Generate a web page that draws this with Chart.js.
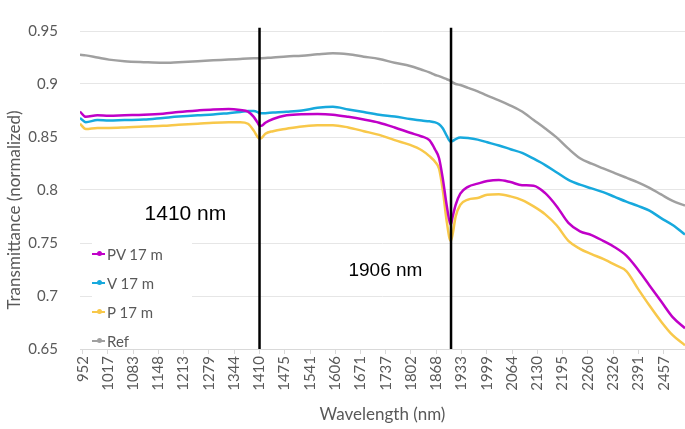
<!DOCTYPE html>
<html>
<head>
<meta charset="utf-8">
<script src="https://cdn.jsdelivr.net/npm/chart.js@4.4.0/dist/chart.umd.min.js"></script>
<style>
  html, body { margin: 0; padding: 0; background: #fff; }
  #wrap { position: relative; width: 685px; height: 429px; }
  #legend { position: absolute; left: 92px; top: 239px; width: 100px; height: 110px; background: #fff;
            font: 15px Lato, sans-serif; color: #595959; }
  .item { height: 29px; display: flex; align-items: center; }
  .mk { position: relative; width: 13px; height: 2px; margin-right: 2px; }
  .mk i { position: absolute; left: 4.5px; top: -1.5px; width: 5px; height: 5px; border-radius: 50%; }
</style>
</head>
<body>
<div id="wrap">
  <canvas id="myChart" width="685" height="429"></canvas>
  <div id="legend"></div>
</div>
<script>
const wavelengths = [945, 960, 990, 1020, 1060, 1110, 1160, 1200, 1250, 1290, 1330, 1360, 1380, 1395, 1405, 1410,
  1415, 1425, 1445, 1480, 1520, 1560, 1600, 1640, 1680, 1720, 1760, 1800, 1830, 1850, 1865, 1875, 1885, 1895,
  1905, 1910, 1918, 1930, 1950, 1975, 2000, 2030, 2060, 2090, 2120, 2150, 2180, 2210, 2240, 2270, 2300, 2330,
  2360, 2390, 2420, 2450, 2480, 2512]

const pv17 = [0.874, 0.869, 0.8705, 0.870, 0.8705, 0.871, 0.872, 0.8735, 0.875, 0.876, 0.8765, 0.8755, 0.874, 0.869,
  0.8635, 0.8605, 0.8605, 0.8635, 0.867, 0.8705, 0.8715, 0.8716, 0.871, 0.869, 0.8665, 0.8635, 0.859, 0.854, 0.8505,
  0.847, 0.838, 0.830, 0.810, 0.785, 0.767, 0.7745, 0.786, 0.7965, 0.803, 0.806, 0.8085, 0.8095, 0.8075, 0.8045,
  0.804, 0.797, 0.7845, 0.769, 0.761, 0.7575, 0.752, 0.746, 0.738, 0.725, 0.710, 0.695, 0.680, 0.6696]

const v17 = [0.868, 0.864, 0.866, 0.8655, 0.866, 0.8664, 0.868, 0.8693, 0.8705, 0.8712, 0.8725, 0.8735, 0.8745,
  0.8745, 0.8735, 0.8725, 0.8723, 0.8725, 0.873, 0.8738, 0.875, 0.8775, 0.8785, 0.876, 0.8735, 0.871, 0.8693, 0.867,
  0.8655, 0.8648, 0.8638, 0.862, 0.858, 0.851, 0.8455, 0.8462, 0.848, 0.8495, 0.849, 0.8475, 0.845, 0.842, 0.8385,
  0.835, 0.8295, 0.8235, 0.8165, 0.8095, 0.805, 0.8015, 0.798, 0.7935, 0.789, 0.785, 0.7805, 0.7735, 0.767, 0.758]

const p17 = [0.8625, 0.8575, 0.8585, 0.8585, 0.859, 0.860, 0.8605, 0.8615, 0.8625, 0.8635, 0.864, 0.864, 0.8625,
  0.856, 0.850, 0.8483, 0.849, 0.853, 0.8555, 0.8578, 0.860, 0.861, 0.8612, 0.859, 0.8555, 0.852, 0.847, 0.8425,
  0.8375, 0.832, 0.8265, 0.820, 0.799, 0.770, 0.752, 0.758, 0.775, 0.786, 0.791, 0.7925, 0.7955, 0.796, 0.794,
  0.7905, 0.7845, 0.777, 0.7665, 0.752, 0.7445, 0.7395, 0.735, 0.7295, 0.7235, 0.707, 0.691, 0.676, 0.663, 0.6535]

const ref = [0.9276, 0.927, 0.925, 0.923, 0.9215, 0.9206, 0.920, 0.9206, 0.9215, 0.9223, 0.923, 0.9236, 0.924,
  0.9242, 0.9243, 0.9243, 0.9244, 0.9246, 0.925, 0.926, 0.9267, 0.928, 0.929, 0.928, 0.9258, 0.9236, 0.920, 0.917,
  0.9135, 0.911, 0.9085, 0.9074, 0.906, 0.9045, 0.903, 0.9015, 0.900, 0.899, 0.8964, 0.893, 0.889, 0.8846, 0.8797,
  0.874, 0.866, 0.858, 0.8494, 0.839, 0.830, 0.8248, 0.8204, 0.816, 0.8116, 0.8072, 0.802, 0.7958, 0.7897, 0.7853]

const seriesNames = ['PV 17 m', 'V 17 m', 'P 17 m', 'Ref']
const seriesValues = [pv17, v17, p17, ref]
const seriesColors = ['#c000c8', '#17a9dd', '#f8c84a', '#a0a0a0']

// vertical marker lines and their labels
const markerWavelengths = [1410, 1906]
const noteTexts = ['1410 nm', '1906 nm']
const noteX = [1218, 1736]
const noteY = [0.777, 0.724]

const xTickLabels = [952, 1017, 1083, 1148, 1213, 1279, 1344, 1410, 1475, 1541, 1606, 1671, 1737, 1802, 1868, 1933,
  1999, 2064, 2130, 2195, 2260, 2326, 2391, 2457]
const yTickLabels = [0.65, 0.7, 0.75, 0.8, 0.85, 0.9, 0.95]

const datasets = seriesNames.map((name, i) => ({
  label: name,
  data: wavelengths.map((w, j) => ({ x: w, y: seriesValues[i][j] })),
  borderColor: seriesColors[i],
  borderWidth: 2.5,
  pointRadius: 0,
  cubicInterpolationMode: 'monotone',
  order: 1
}))
markerWavelengths.forEach(w => {
  datasets.push({
    label: w + ' nm',
    data: [{ x: w, y: 0.65 }, { x: w, y: 0.953 }],
    borderColor: '#000',
    borderWidth: 2.5,
    pointRadius: 0,
    clip: false,
    order: 0
  })
})

const notes = {
  id: 'notes',
  afterDraw: chart => {
    const c = chart.ctx
    c.save()
    c.fillStyle = '#000'
    c.textAlign = 'center'
    c.textBaseline = 'middle'
    noteTexts.forEach((t, i) => {
      c.font = (i === 0 ? 21 : 19) + 'px "Liberation Sans", Arial, sans-serif'
      c.fillText(t, chart.scales.x.getPixelForValue(noteX[i]), chart.scales.y.getPixelForValue(noteY[i]))
    })
    // y axis title
    c.translate(15, 210)
    c.rotate(-Math.PI / 2)
    c.fillStyle = '#595959'
    c.font = '17px Lato, sans-serif'
    c.fillText('Transmittance (normalized)', 0, 0)
    c.restore()
  }
}

new Chart(document.getElementById('myChart'), {
  type: 'line',
  data: { datasets },
  plugins: [notes],
  options: {
    responsive: false,
    animation: false,
    layout: { padding: { top: 7, right: 0, left: 0, bottom: 0 } },
    plugins: { legend: { display: false }, tooltip: { enabled: false } },
    scales: {
      x: {
        type: 'linear',
        min: 945,
        max: 2512,
        afterBuildTicks: s => { s.ticks = xTickLabels.map(v => ({ value: v })) },
        afterFit: s => { s.height = 80 },
        grid: { drawOnChartArea: false, color: '#d9d9d9', tickLength: 5 },
        border: { color: '#d9d9d9' },
        ticks: {
          autoSkip: false, minRotation: 90, maxRotation: 90, padding: 2,
          color: '#595959', font: { family: 'Lato', size: 15 },
          callback: v => String(v)
        },
        title: {
          display: true, text: 'Wavelength (nm)', color: '#595959',
          font: { family: 'Lato', size: 17 }, padding: { top: 0, bottom: 4 }
        }
      },
      y: {
        min: 0.65,
        max: 0.95,
        afterBuildTicks: s => { s.ticks = yTickLabels.map(v => ({ value: v })) },
        afterFit: s => { s.width = 80 },
        grid: { color: '#e6e6e6', drawTicks: false },
        border: { display: false },
        ticks: {
          padding: 22, color: '#595959', font: { family: 'Lato', size: 15 },
          callback: v => String(+v.toFixed(2))
        }
      }
    }
  }
})

// legend inside the plot, bottom left
const legend = document.getElementById('legend')
seriesNames.forEach((name, i) => {
  const row = document.createElement('div')
  row.className = 'item'
  row.innerHTML = `<span class="mk" style="background:${seriesColors[i]}"><i style="background:${seriesColors[i]}"></i></span>${name}`
  legend.appendChild(row)
})
</script>
</body>
</html>
